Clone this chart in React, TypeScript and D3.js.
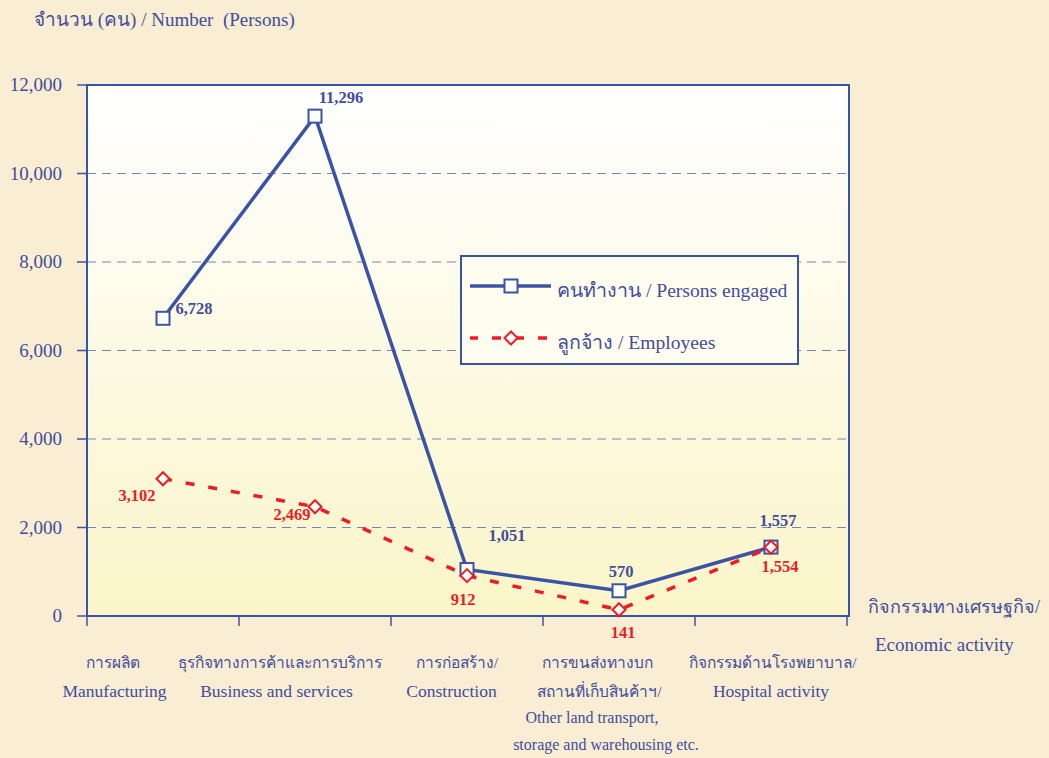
import React from "react";
import * as d3 from "d3";

const categoriesTh = ["การผลิต", "ธุรกิจทางการค้าและการบริการ", "การก่อสร้าง/", "การขนส่งทางบก", "กิจกรรมด้านโรงพยาบาล/"];
const categoriesTh2 = ["", "", "", "สถานที่เก็บสินค้าฯ/", ""];
const categoriesEn = ["Manufacturing", "Business and services", "Construction", "Other land transport,", "Hospital activity"];
const categoriesEn2 = ["", "", "", "storage and warehousing etc.", ""];
const personsEngaged = [6728, 11296, 1051, 570, 1557];
const employees = [3102, 2469, 912, 141, 1554];
const yTicks = [0, 2000, 4000, 6000, 8000, 10000, 12000];

const BLUE = "#3B53A4";
const TEXT = "#3F4E9C";
const RED = "#EE1C25";
const FONT = "'Liberation Serif', 'Times New Roman', 'DejaVu Serif', serif";

export default function App() {
  const W = 1049, H = 758;
  const left = 87, right = 847, top = 85, bottom = 616;
  const x = d3.scaleBand<number>().domain(d3.range(5)).range([left, right]);
  const cx = (i: number) => (x(i) as number) + x.bandwidth() / 2;
  const y = d3.scaleLinear().domain([0, 12000]).range([bottom, top]);
  const fmt = d3.format(",");
  const line = d3.line<number>().x((_, i) => cx(i)).y((d) => y(d));

  // label layout (offsets from band centre)
  const thDx = [-50.5, -35, -10, -22, 2];
  const th2Dx = [0, 0, 0, -19.5, 0];
  const enDx = [-48.5, -38.5, -15.5, -27, 0];
  const en2Dx = [0, 0, 0, -13, 0];
  const blueLabelOff = [[31, -4], [26, -13], [40, -28], [2, -14], [7, -21]];
  const redLabelOff = [[-26, 22], [-23, 13], [-4, 29], [4, 28], [9, 25]];

  return (
    <svg width={W} height={H} style={{ position: "absolute", left: 0, top: 0 }} fontFamily={FONT}>
      <defs>
        <linearGradient id="plotbg" x1="0" y1="0" x2="0" y2="1">
          <stop offset="0" stopColor="#FFFFFF" />
          <stop offset="1" stopColor="#FBF5C9" />
        </linearGradient>
      </defs>
      <rect x={0} y={0} width={W} height={H} fill="#F9EDD3" />
      <rect x={left} y={top} width={right - left + 2} height={bottom - top} fill="url(#plotbg)" />
      {yTicks.filter((t) => t > 0 && t < 12000).map((t) => (
        <line key={t} x1={left} x2={right + 2} y1={y(t)} y2={y(t)} stroke="#7485BA" strokeWidth={1} strokeDasharray="9,6" />
      ))}
      <rect x={left} y={top} width={right - left + 2} height={bottom - top} fill="none" stroke={BLUE} strokeWidth={2} />
      {yTicks.map((t) => (
        <g key={t}>
          <line x1={77} x2={left} y1={y(t)} y2={y(t)} stroke={BLUE} strokeWidth={1.5} />
          <text x={62} y={y(t) + 6} textAnchor="end" fontSize={19} fill={TEXT}>{fmt(t)}</text>
        </g>
      ))}
      {d3.range(6).map((i) => {
        const xx = i < 5 ? (x(i) as number) : right;
        return <line key={i} x1={xx} x2={xx} y1={bottom} y2={626} stroke={BLUE} strokeWidth={1.5} />;
      })}
      <text x={34} y={26} fontSize={19} fill={TEXT} style={{ whiteSpace: "pre" }}>{"จำนวน (คน) / Number  (Persons)"}</text>
      {categoriesTh.map((c, i) => (
        <g key={i} textAnchor="middle" fill={TEXT}>
          <text x={cx(i) + thDx[i]} y={668} fontSize={15.5}>{c}</text>
          {categoriesTh2[i] ? <text x={cx(i) + th2Dx[i]} y={697} fontSize={15.5}>{categoriesTh2[i]}</text> : null}
          {categoriesTh2[i] ? (
            <>
              <text x={cx(i) + enDx[i]} y={723} fontSize={16}>{categoriesEn[i]}</text>
              <text x={cx(i) + en2Dx[i]} y={750} fontSize={16}>{categoriesEn2[i]}</text>
            </>
          ) : (
            <text x={cx(i) + enDx[i]} y={697} fontSize={17.5}>{categoriesEn[i]}</text>
          )}
        </g>
      ))}
      <text x={868} y={613} fontSize={18} fill={TEXT}>กิจกรรมทางเศรษฐกิจ/</text>
      <text x={875} y={651} fontSize={19} fill={TEXT}>Economic activity</text>

      <path d={line(personsEngaged) || ""} fill="none" stroke={BLUE} strokeWidth={3.5} />
      <path d={line(employees) || ""} fill="none" stroke={RED} strokeWidth={3.5} strokeDasharray="9,14" />
      {personsEngaged.map((v, i) => (
        <rect key={i} x={cx(i) - 6.5} y={y(v) - 6.5} width={13} height={13} fill="#fff" stroke={BLUE} strokeWidth={2} />
      ))}
      {employees.map((v, i) => (
        <path key={i} d={`M${cx(i)},${y(v) - 6.5}L${cx(i) + 6.5},${y(v)}L${cx(i)},${y(v) + 6.5}L${cx(i) - 6.5},${y(v)}Z`} fill="#fff" stroke={RED} strokeWidth={2} />
      ))}
      {personsEngaged.map((v, i) => (
        <text key={i} x={cx(i) + blueLabelOff[i][0]} y={y(v) + blueLabelOff[i][1]} textAnchor="middle" fontSize={16.5} fontWeight="bold" fill={TEXT}>{fmt(v)}</text>
      ))}
      {employees.map((v, i) => (
        <text key={i} x={cx(i) + redLabelOff[i][0]} y={y(v) + redLabelOff[i][1]} textAnchor="middle" fontSize={16.5} fontWeight="bold" fill={RED}>{fmt(v)}</text>
      ))}

      <rect x={461} y={256} width={337} height={108} fill="#FFFDF0" stroke={BLUE} strokeWidth={2} />
      <line x1={470} x2={551} y1={286} y2={286} stroke={BLUE} strokeWidth={3.5} />
      <rect x={504.5} y={279.5} width={13} height={13} fill="#fff" stroke={BLUE} strokeWidth={2} />
      <text x={557} y={297} fontSize={19.6} fill={TEXT}>คนทำงาน / Persons engaged</text>
      <line x1={470} x2={551} y1={338} y2={338} stroke={RED} strokeWidth={3.5} strokeDasharray="9,14" strokeDashoffset={1} />
      <path d="M511,331.5L517.5,338L511,344.5L504.5,338Z" fill="#fff" stroke={RED} strokeWidth={2} />
      <text x={557} y={349} fontSize={19.6} fill={TEXT}>ลูกจ้าง / Employees</text>
    </svg>
  );
}
